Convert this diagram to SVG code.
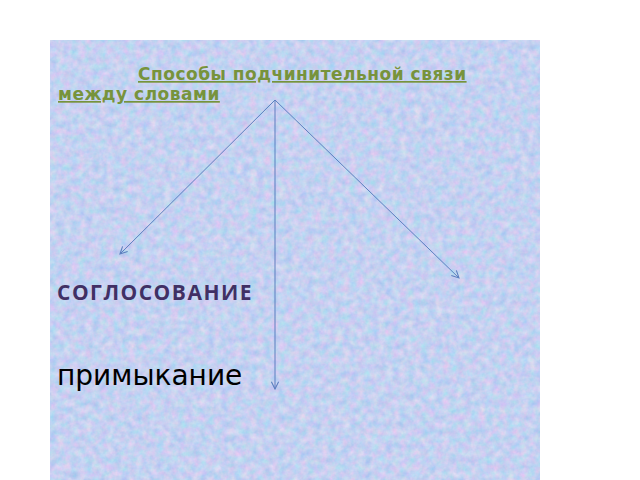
<svg xmlns="http://www.w3.org/2000/svg" width="640" height="480" viewBox="0 0 640 480">
<style>
.title{font-family:"DejaVu Sans",sans-serif;font-weight:bold;font-size:17px;fill:#77933c;text-decoration:underline;letter-spacing:0.5px}
.conn{stroke:#5b7fbf;stroke-width:1;fill:none}
</style>
<defs>
<filter id="tex" x="0" y="0" width="100%" height="100%" color-interpolation-filters="sRGB">
<feTurbulence type="fractalNoise" baseFrequency="0.14" numOctaves="3" seed="4" result="n"/>
<feColorMatrix in="n" type="matrix" values="0.32 0 0 0 0.61  0 0.16 0 0 0.74  0 0 0.06 0 0.915  0 0 0 0 1"/>
</filter>
<marker id="arr" viewBox="0 0 10 10" refX="9" refY="5" markerWidth="9" markerHeight="9" orient="auto" markerUnits="userSpaceOnUse">
<path d="M1,1 L9,5 L1,9" fill="none" stroke="#5b7fbf" stroke-width="1.2"/>
</marker>
</defs>
<rect x="0" y="0" width="640" height="480" fill="#ffffff"/>
<rect x="50" y="40" width="490" height="440" fill="#c4d4f0"/>
<rect x="50" y="40" width="490" height="440" filter="url(#tex)"/>
<g id="title">
<text class="title" x="138" y="80">Способы подчинительной связи</text>
<text class="title" x="58" y="100">между словами</text>
</g>
<g id="connectors">
<line class="conn" x1="275" y1="100" x2="120" y2="254" marker-end="url(#arr)"/>
<line class="conn" x1="275" y1="100" x2="459" y2="278" marker-end="url(#arr)"/>
<line class="conn" x1="275" y1="100" x2="275" y2="389" marker-end="url(#arr)"/>
</g>
<g id="soglasovanie">
<text x="57" y="300" font-family="'Open Sans','DejaVu Sans',sans-serif" font-weight="bold" font-size="21" letter-spacing="1.5" fill="#403064">СОГЛОСОВАНИЕ</text>
</g>
<g id="primykanie">
<text x="57" y="385" font-family="'DejaVu Sans',sans-serif" font-size="28" fill="#000000">примыкание</text>
</g>
</svg>
